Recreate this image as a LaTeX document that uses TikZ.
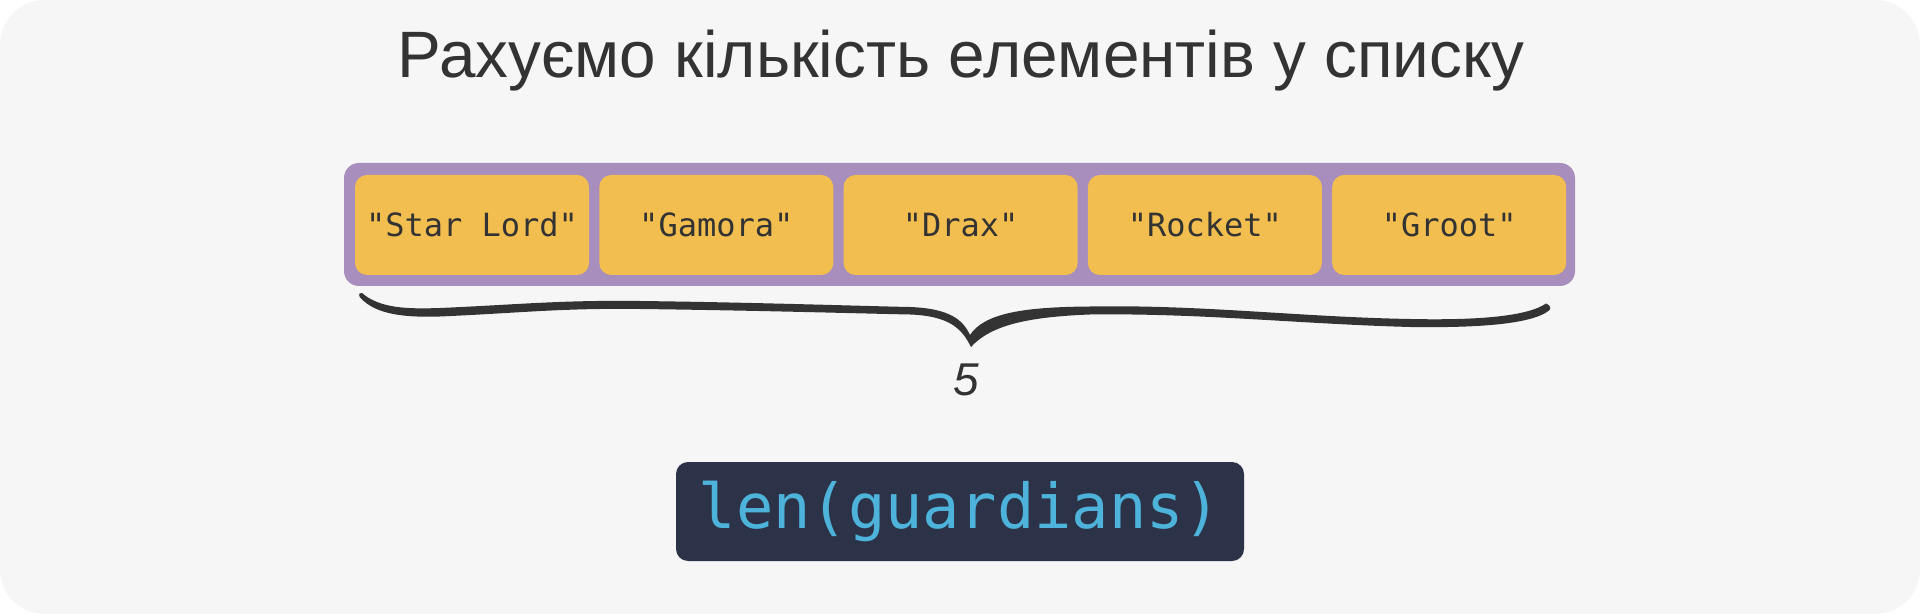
\documentclass[tikz,border=0pt]{standalone}
\usepackage{fontspec}
\setmainfont{Liberation Sans}
\newfontfamily\monofont{DejaVu Sans Mono}
\definecolor{bgcol}{HTML}{F6F6F6}
\definecolor{inkcol}{HTML}{333333}
\definecolor{listcol}{HTML}{A78EBD}
\definecolor{itemcol}{HTML}{F2BE4F}
\definecolor{codebg}{HTML}{2C3247}
\definecolor{codefg}{HTML}{4DB3DB}
\begin{document}
\begin{tikzpicture}[x=0.5pt, y=-0.5pt,
    item/.style={rectangle, rounded corners=6pt, fill=itemcol, minimum width=117pt, minimum height=50pt, inner sep=0pt, text=inkcol, font=\monofont\fontsize{16pt}{18pt}\selectfont},
    codebox/.style={rectangle, rounded corners=6pt, fill=codebg, minimum width=284pt, minimum height=49.5pt, inner sep=0pt, text=codefg, font=\monofont\fontsize{31pt}{34pt}\selectfont}]
      \def \w {244.3};
      \useasboundingbox (0,0) rectangle (1920,614);
      \fill[white] (0,0) rectangle (1920,614);
      \fill[bgcol, rounded corners=22.5pt] (0,0) rectangle (1920,614);

      \node[anchor=base, text=inkcol, font=\fontsize{32.8pt}{36pt}\selectfont](T) at (961,77.5) {Рахуємо кількість елементів у списку};

      \node[rectangle, rounded corners=7.5pt, fill=listcol, minimum width=615.5pt, minimum height=61.5pt, inner sep=0pt](L) at (959.5,224.5) {};
      \node[item](G0) at (472,225) {"Star Lord"};
      \node[item](G1) at (472+\w,225) {"Gamora"};
      \node[item](G2) at (472+2*\w,225) {"Drax"};
      \node[item](G3) at (472+3*\w,225) {"Rocket"};
      \node[item](G4) at (472+4*\w,225) {"Groot"};

      % hand drawn brace under the list
      \fill[inkcol] (362,293) .. controls (380,309) and (410,309) .. (440,308)
        .. controls (520,304.5) and (560,300) .. (640,301)
        .. controls (760,302.5) and (860,306) .. (910,307)
        .. controls (950,308.5) and (963,320) .. (970,335)
        .. controls (984,314) and (1020,307) .. (1090,306.5)
        .. controls (1200,304.5) and (1300,317) .. (1410,319)
        .. controls (1480,320.5) and (1528,316) .. (1546,303.5)
        .. controls (1551,305.5) and (1551,309) .. (1549,310.5)
        .. controls (1532,324) and (1480,328) .. (1410,327)
        .. controls (1300,324) and (1200,313) .. (1090,314.5)
        .. controls (1025,317) and (990,326) .. (971,347)
        .. controls (962,329) and (950,316) .. (910,314.5)
        .. controls (860,313.5) and (760,310.5) .. (640,309)
        .. controls (560,308) and (520,313) .. (440,316.5)
        .. controls (405,317.5) and (376,315) .. (360,297.5)
        .. controls (358,294) and (360,292) .. (362,293) -- cycle;
      \node[text=inkcol, font=\itshape\fontsize{23pt}{26pt}\selectfont](N) at (966,380) {5};

      \node[codebox](C) at (960,511.5) {len(guardians)};
    \end{tikzpicture}
\end{document}
